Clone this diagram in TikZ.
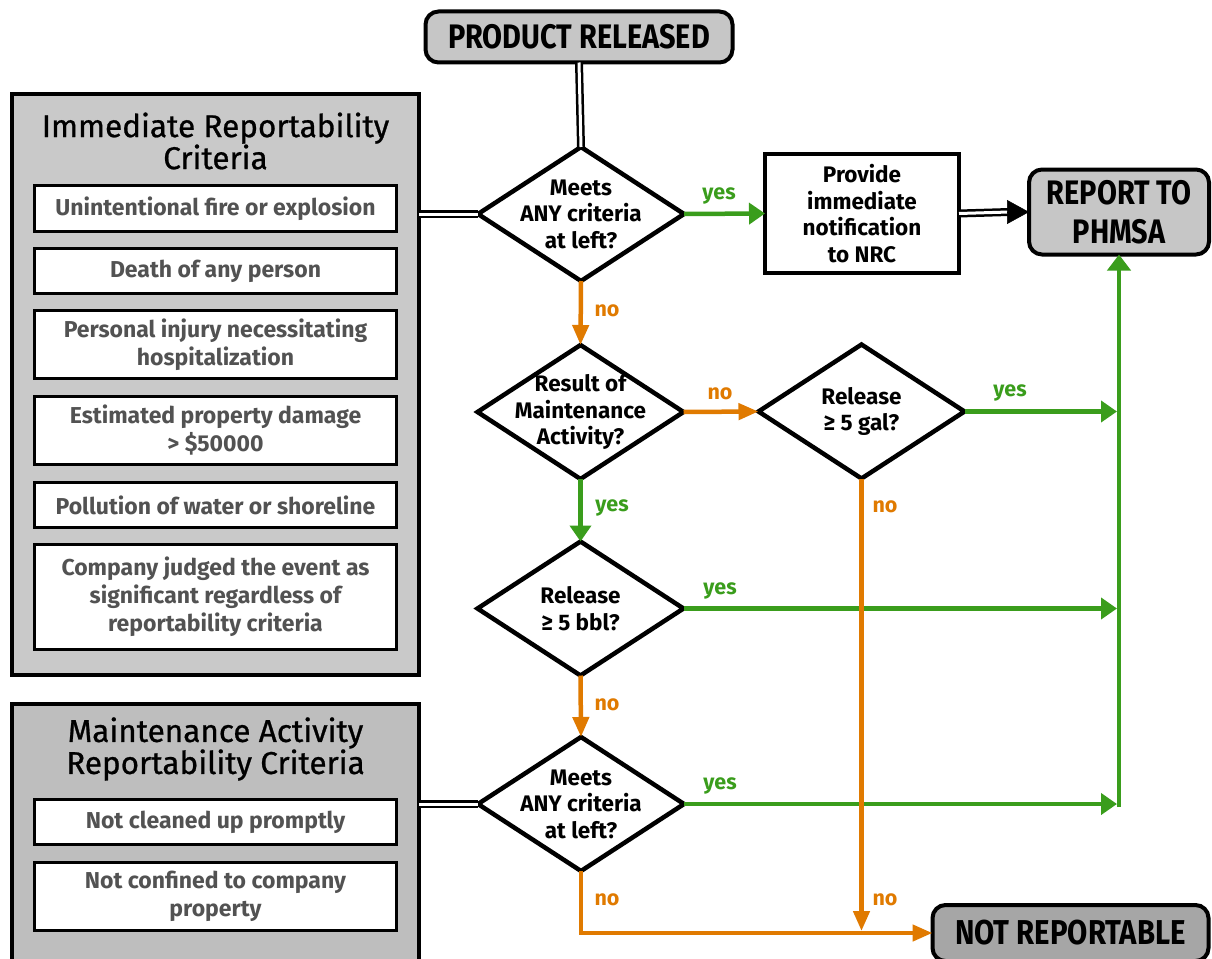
\documentclass[tikz,border=0pt]{standalone}
\usepackage{fontspec}
\setmainfont{Fira Sans}
\newfontfamily\condfont{Fira Sans}[FakeStretch=0.85]
\newfontfamily\headfont{Fira Sans}[BoldFont={Fira Sans}, BoldFeatures={FakeBold=0.8}]
\usetikzlibrary{shapes.geometric,arrows.meta}
\definecolor{ygreen}{HTML}{3A9D1C}
\definecolor{norange}{HTML}{E07A00}
\definecolor{panelA}{HTML}{C9C9C9}
\definecolor{panelB}{HTML}{BEBEBE}
\definecolor{termA}{HTML}{C6C6C6}
\definecolor{termB}{HTML}{A6A6A6}
\definecolor{critgray}{HTML}{525252}
\begin{document}
\begin{tikzpicture}[x=1pt,y=-1pt,
  every node/.style={inner sep=0pt, outer sep=0pt},
  panel/.style={draw=black, line width=4pt, rectangle, minimum width=407pt},
  crit/.style={draw=black, line width=3pt, fill=white, minimum width=362pt,
    text=critgray, font=\fontsize{23}{28}\selectfont\bfseries, align=center},
  heading/.style={font=\headfont\bfseries\fontsize{31.5}{32}\selectfont, align=center, text=black},
  dia/.style={draw=black, line width=4.5pt, diamond, fill=white,
    minimum width=206pt, minimum height=134pt},
  diatext/.style={font=\fontsize{22.5}{26.5}\selectfont\bfseries, align=center},
  term/.style={draw=black, line width=4pt, rounded corners=13pt, align=center},
  procbox/.style={draw=black, line width=4pt, fill=white, rectangle},
  dbl/.style={draw=black, line width=2.5pt, double=white, double distance=3pt},
  yesarrow/.style={draw=ygreen, line width=4.5pt,
    -{Triangle[length=16pt,width=21pt]}},
  noarrow/.style={draw=norange, line width=4.5pt,
    -{Triangle[length=20pt,width=16pt]}},
  yeslabel/.style={text=ygreen, font=\fontsize{21.5}{24}\selectfont\bfseries},
  nolabel/.style={text=norange, font=\fontsize{21.5}{24}\selectfont\bfseries},
]
\clip (0,0) rectangle (1212,958);
\fill[white] (0,0) rectangle (1212,958);

% ---------- left panels ----------
\node[panel, fill=panelA, minimum height=581pt] (panel1) at (215.5,384.5) {};
\node[heading] (head1) at (215.5,141) {Immediate Reportability\\Criteria};
\node[crit, minimum height=46pt] (c1) at (215.5,208.5) {Unintentional fire or explosion};
\node[crit, minimum height=45pt] (c2) at (215.5,271) {Death of any person};
\node[crit, minimum height=68pt] (c3) at (215.5,344.5) {Personal injury necessitating\\hospitalization};
\node[crit, minimum height=68pt] (c4) at (215.5,430.5) {Estimated property damage\\> \$50000};
\node[crit, minimum height=45pt] (c5) at (215.5,505) {Pollution of water or shoreline};
\node[crit, minimum height=105pt] (c6) at (215.5,597) {Company judged the event as\\significant regardless of\\reportability criteria};

\node[panel, fill=panelB, minimum height=296pt] (panel2) at (215.5,852) {};
\node[heading] (head2) at (215.5,749) {Maintenance Activity\\Reportability Criteria};
\node[crit, minimum height=45pt] (m1) at (215.5,822) {Not cleaned up promptly};
\node[crit, minimum height=68pt] (m2) at (215.5,896.5) {Not confined to company\\property};

% ---------- terminals ----------
\node[term, fill=termA, minimum width=307pt, minimum height=51pt,
  font=\condfont\bfseries\fontsize{34}{36}\selectfont] (start) at (579,37) {PRODUCT RELEASED};
\node[term, fill=termA, minimum width=180pt, minimum height=85pt,
  font=\condfont\bfseries\fontsize{34}{39}\selectfont] (phmsa) at (1119,212) {REPORT TO\\PHMSA};
\node[term, fill=termB, minimum width=276pt, minimum height=56pt,
  font=\condfont\bfseries\fontsize{34.5}{36}\selectfont] (nr) at (1070.5,933) {NOT REPORTABLE};

% ---------- decisions ----------
\node[dia] (d1) at (581,214) {};
\node[diatext] at (d1) {Meets\\ANY criteria\\at left?};
\node[dia] (d2) at (580.5,412) {};
\node[diatext] at (d2) {Result of\\Maintenance\\Activity?};
\node[dia] (d3) at (861.5,411.5) {};
\node[diatext] at (d3) {Release\\≥ 5 gal?};
\node[dia] (d4) at (580.5,608.5) {};
\node[diatext] at (d4) {Release\\≥ 5 bbl?};
\node[dia] (d5) at (581,804) {};
\node[diatext] at (d5) {Meets\\ANY criteria\\at left?};

% ---------- process ----------
\node[procbox, minimum width=194pt, minimum height=119pt] (nrc) at (862,213.5) {};
\node[diatext] at (nrc) {Provide\\immediate\\notification\\to NRC};

% ---------- bus coordinates ----------
\coordinate (bus) at (1117,0);
\coordinate (busbot) at (1119,807);
\coordinate (nrjoin) at (861.5,931);

% ---------- connectors ----------
\draw[dbl] (start.south) -- (d1.north);
\draw[dbl] (panel1.east |- d1.west) -- (d1.west);
\draw[dbl] (panel2.east |- d5.west) -- (d5.west);

\draw[yesarrow] (d1.east) -- (nrc.west);
\draw[dbl] (nrc.east) -- ([xshift=-20pt]phmsa.west);
\draw[draw=black, line width=0.5pt, fill=black, -{Triangle[length=22pt,width=24pt]}]
  ([xshift=-21pt]phmsa.west) -- (phmsa.west);

\draw[noarrow] (d1.south) -- (d2.north);
\draw[noarrow] (d2.east) -- (d3.west);
\draw[yesarrow] (d2.south) -- (d4.north);
\draw[noarrow] (d4.south) -- (d5.north);

\draw[yesarrow] (d3.east) -- (d3.east -| bus);
\draw[yesarrow] (d4.east) -- (d4.east -| bus);
\draw[yesarrow] (d5.east) -- (d5.east -| bus);
\draw[draw=ygreen, line width=4.5pt, -{Triangle[length=16pt,width=23pt]}]
  (busbot) -- (phmsa.south);

\draw[noarrow] (d3.south) -- (nrjoin);
\draw[noarrow] (d5.south) |- (nr.west);

% ---------- labels ----------
\node[yeslabel] (l1) at (719,196) {yes};
\node[nolabel] (l2) at (607,311) {no};
\node[nolabel] (l3) at (720,394) {no};
\node[yeslabel] (l4) at (1010,393) {yes};
\node[yeslabel] (l5) at (612,508) {yes};
\node[nolabel] (l6) at (885,507) {no};
\node[yeslabel] (l7) at (720,591) {yes};
\node[nolabel] (l8) at (607,705) {no};
\node[yeslabel] (l9) at (720,786) {yes};
\node[nolabel] (l10) at (607,900) {no};
\node[nolabel] (l11) at (885,900) {no};
\end{tikzpicture}
\end{document}
